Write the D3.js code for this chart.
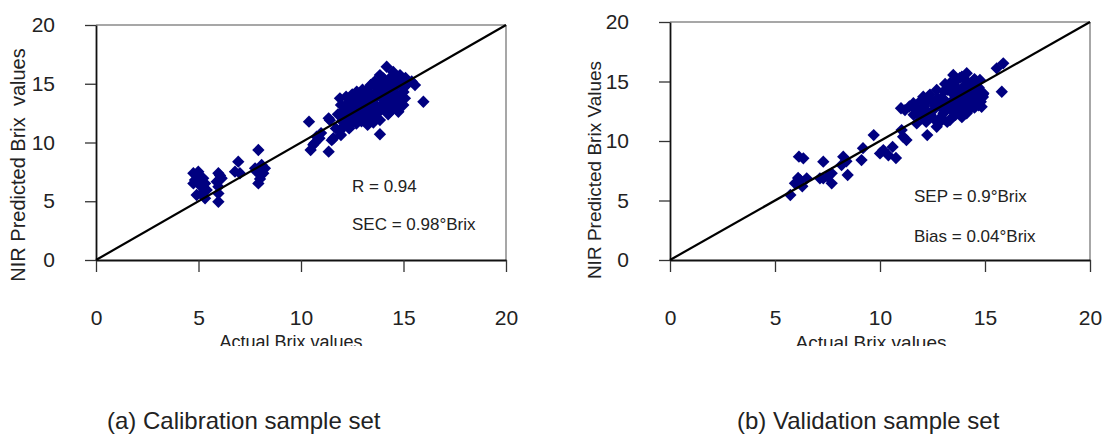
<!DOCTYPE html>
<html>
<head>
<meta charset="utf-8">
<script src="https://cdn.jsdelivr.net/npm/d3@7"></script>
<style>
  html, body { margin: 0; padding: 0; background: #fff; }
  svg { display: block; }
  text { font-family: "Liberation Sans", Arial, sans-serif; fill: #222; }
</style>
</head>
<body>
<svg id="chart" width="1108" height="436"></svg>
<script>
// ---------- data ----------
const ticks = [0, 5, 10, 15, 20];
const tickLabels = ["0", "5", "10", "15", "20"];
const calActual = [
  4.75,4.99,4.83,5.23,5.32,4.75,4.91,5.15,5.40,5.32,5.05,5.10,5.97,6.05,5.89,5.97,5.97,5.97,6.13,6.94,6.78,7.02,7.76,7.92,8.08,8.16,7.92,7.83,8.24,8.00,
  10.39,10.65,10.47,10.90,11.35,11.50,10.98,11.35,11.95,10.76,11.58,10.60,11.41,11.70,11.80,
  11.90,11.95,12.00,12.05,12.10,11.90,12.20,12.25,12.30,12.30,12.35,
  12.50,12.55,12.60,12.60,12.70,12.72,12.80,12.85,12.90,12.95,13.00,13.05,
  13.10,13.20,13.20,13.25,13.30,13.35,13.40,13.45,13.50,13.53,13.55,
  13.60,13.70,13.75,13.80,13.85,13.85,13.90,13.85,14.00,14.00,14.02,
  14.18,14.20,14.20,14.25,14.30,14.34,14.40,14.45,14.50,14.50,
  14.60,14.67,14.70,14.75,14.83,14.90,14.99,15.00,15.07,15.15,15.10,
  15.56,15.97,15.40,
  12.10,12.40,12.45,12.65,12.75,13.00,13.10,13.15,13.30,13.40,13.60,13.65,13.70,13.95,14.10,14.10,14.15,
  14.35,14.40,14.55,14.60,14.80,14.90,13.50,13.90,14.30,12.15,12.40,12.00,13.00,14.70,15.00,13.35,12.85
];
const calPredicted = [
  7.38,7.52,6.81,6.95,6.52,6.52,5.53,5.67,5.96,5.25,7.10,6.30,7.38,7.20,6.67,6.24,5.67,4.96,6.95,8.37,7.52,7.38,7.80,9.36,8.09,7.38,6.52,7.52,7.80,6.90,
  11.77,9.93,9.36,10.36,9.22,10.20,10.80,12.06,10.64,10.50,10.36,9.80,11.90,11.20,12.40,
  13.76,13.20,12.60,12.00,11.40,11.00,13.90,13.30,12.50,11.80,11.20,
  14.10,13.50,12.90,12.20,11.60,14.33,13.70,13.10,12.40,11.80,14.50,12.91,
  13.90,13.40,12.20,11.50,14.30,12.80,14.90,13.60,12.40,11.70,14.00,
  15.20,13.10,14.50,12.60,11.91,15.74,13.80,10.70,14.20,12.90,15.46,
  16.45,15.00,13.40,12.40,14.40,12.62,15.60,13.80,16.00,13.10,
  14.90,13.47,15.50,12.62,15.74,14.20,13.19,14.70,13.76,14.89,15.50,
  14.89,13.47,15.20,
  13.00,12.80,13.60,13.30,12.50,13.30,12.60,14.40,13.10,12.00,13.80,12.40,14.00,13.20,14.70,13.90,12.80,
  13.60,14.20,14.60,12.90,13.90,15.20,15.00,15.00,15.30,12.20,11.50,11.80,12.00,14.00,14.30,13.70,14.00
];
const valActual = [
  5.73,5.95,6.19,6.51,6.35,6.14,6.10,6.30,7.30,7.14,7.30,7.70,7.70,7.50,8.25,8.17,8.46,8.40,9.12,9.19,9.70,10.00,10.16,10.40,10.60,10.76,11.03,11.10,11.26,12.25,11.00,
  11.19,11.40,11.59,11.60,11.75,11.80,11.90,11.95,12.06,12.10,12.20,12.30,12.38,12.50,12.54,12.60,12.70,12.70,12.75,12.85,12.90,
  13.02,13.05,13.10,13.17,13.20,13.30,13.33,13.33,13.40,13.49,13.50,13.60,13.65,13.65,13.70,13.81,13.81,13.90,13.97,
  14.00,14.05,14.13,14.13,14.20,14.30,14.40,14.44,14.44,14.50,14.60,14.70,14.76,14.80,14.84,14.92,14.90,
  15.87,15.56,15.80,
  12.00,12.20,12.40,12.60,12.90,13.00,13.10,13.25,13.40,13.55,13.60,13.75,13.80,13.90,14.00,14.10,14.15,
  14.25,14.30,14.50,14.60,14.70,14.90,13.50,13.90,12.80,12.00,11.60,13.20,14.35
];
const valPredicted = [
  5.46,6.44,6.72,6.86,8.54,8.68,6.90,6.20,8.26,6.86,6.86,6.44,7.28,7.00,8.68,7.98,7.14,8.30,8.40,9.40,10.50,8.96,9.24,8.80,9.50,8.57,10.92,10.36,10.08,10.50,12.75,
  12.60,12.90,13.17,12.20,11.48,12.70,12.33,13.40,13.72,12.90,11.60,12.40,13.90,13.30,12.60,11.80,14.29,11.20,13.60,12.90,12.00,
  12.33,14.20,13.40,13.17,11.60,14.60,14.85,11.76,12.60,15.55,13.90,12.20,15.13,12.60,14.40,13.45,14.01,15.40,14.57,
  12.50,13.00,15.69,12.33,14.00,13.40,14.90,14.29,13.45,12.80,13.90,14.50,15.13,13.30,12.88,14.01,13.70,
  16.53,16.11,14.14,
  12.50,13.30,12.20,13.00,13.60,12.80,14.80,12.90,13.30,14.60,13.00,12.90,15.30,14.20,13.60,15.10,13.20,
  14.60,12.70,15.20,14.20,13.00,13.90,12.10,12.00,11.50,12.00,12.80,14.30,13.90
];

// ---------- drawing ----------
const svg = d3.select("#chart");
svg.append("defs").append("clipPath").attr("id", "clipBottom")
  .append("rect").attr("x", 0).attr("y", 0).attr("width", 1108).attr("height", 346);

const panels = [
  { xr: [96, 506], yr: [260, 25], actual: calActual, pred: calPredicted,
    ylabel: "NIR Predicted Brix  values", ylx: 20, yly: 165, ylfs: 20,
    xtitle: "Actual Brix values", xtx: 291, xty: 347.5, xtfs: 18,
    notes: [{t: "R = 0.94", x: 352, y: 192}, {t: "SEC = 0.98°Brix", x: 352, y: 230}],
    caption: "(a) Calibration sample set", cx: 107 },
  { xr: [670, 1090], yr: [260, 22], actual: valActual, pred: valPredicted,
    ylabel: "NIR Predicted Brix Values", ylx: 596, yly: 170, ylfs: 19,
    xtitle: "Actual Brix values", xtx: 871, xty: 348.5, xtfs: 19,
    notes: [{t: "SEP = 0.9°Brix", x: 914, y: 202}, {t: "Bias = 0.04°Brix", x: 914, y: 242}],
    caption: "(b) Validation sample set", cx: 737 }
];

panels.forEach(p => {
  const x = d3.scaleLinear().domain([0, 20]).range(p.xr);
  const y = d3.scaleLinear().domain([0, 20]).range(p.yr);
  const g = svg.append("g");

  // frame: top and right in gray
  g.append("line").attr("x1", x(0)).attr("x2", x(20)).attr("y1", y(20)).attr("y2", y(20))
    .attr("stroke", "#8a8a8a").attr("stroke-width", 1.5);
  g.append("line").attr("x1", x(20)).attr("x2", x(20)).attr("y1", y(20)).attr("y2", y(0))
    .attr("stroke", "#8a8a8a").attr("stroke-width", 1.5);

  // axes
  const yAxis = d3.axisLeft(y).tickValues(ticks).tickFormat((d, i) => tickLabels[i])
    .tickSizeInner(11).tickSizeOuter(0).tickPadding(30);
  const xAxis = d3.axisBottom(x).tickValues(ticks).tickFormat((d, i) => tickLabels[i])
    .tickSizeInner(12).tickSizeOuter(0).tickPadding(38);

  const ya = g.append("g").attr("transform", `translate(${x(0)},0)`).call(yAxis);
  const xa = g.append("g").attr("transform", `translate(0,${y(0)})`).call(xAxis);
  [ya, xa].forEach(a => {
    a.select(".domain").attr("stroke", "#111").attr("stroke-width", 1.8);
    a.selectAll(".tick line").attr("stroke", "#333").attr("stroke-width", 1.3);
    a.selectAll(".tick text").attr("font-size", 21).attr("fill", "#222")
      .attr("font-family", '"Liberation Sans", Arial, sans-serif');
  });

  // points
  const pts = p.actual.map((a, i) => [a, p.pred[i]]);
  const sym = d3.symbol().type(d3.symbolSquare).size(76);
  g.append("g").selectAll("path").data(pts).join("path")
    .attr("d", sym)
    .attr("transform", d => `translate(${x(d[0])},${y(d[1])}) rotate(45)`)
    .attr("fill", "#000080");

  // diagonal 1:1 line over points
  g.append("line").attr("x1", x(0)).attr("y1", y(0)).attr("x2", x(20)).attr("y2", y(20))
    .attr("stroke", "#000").attr("stroke-width", 2.2);

  // annotations
  p.notes.forEach(n => {
    g.append("text").attr("x", n.x).attr("y", n.y).attr("font-size", 17).text(n.t);
  });

  // axis titles
  g.append("text").attr("transform", `translate(${p.ylx},${p.yly}) rotate(-90)`)
    .attr("text-anchor", "middle").attr("dominant-baseline", "middle")
    .attr("font-size", p.ylfs).style("white-space", "pre").text(p.ylabel);
  g.append("text").attr("x", p.xtx).attr("y", p.xty).attr("text-anchor", "middle")
    .attr("font-size", p.xtfs).attr("clip-path", "url(#clipBottom)").text(p.xtitle);

  // caption
  g.append("text").attr("x", p.cx).attr("y", 429).attr("font-size", 24).text(p.caption);
});
</script>
</body>
</html>
